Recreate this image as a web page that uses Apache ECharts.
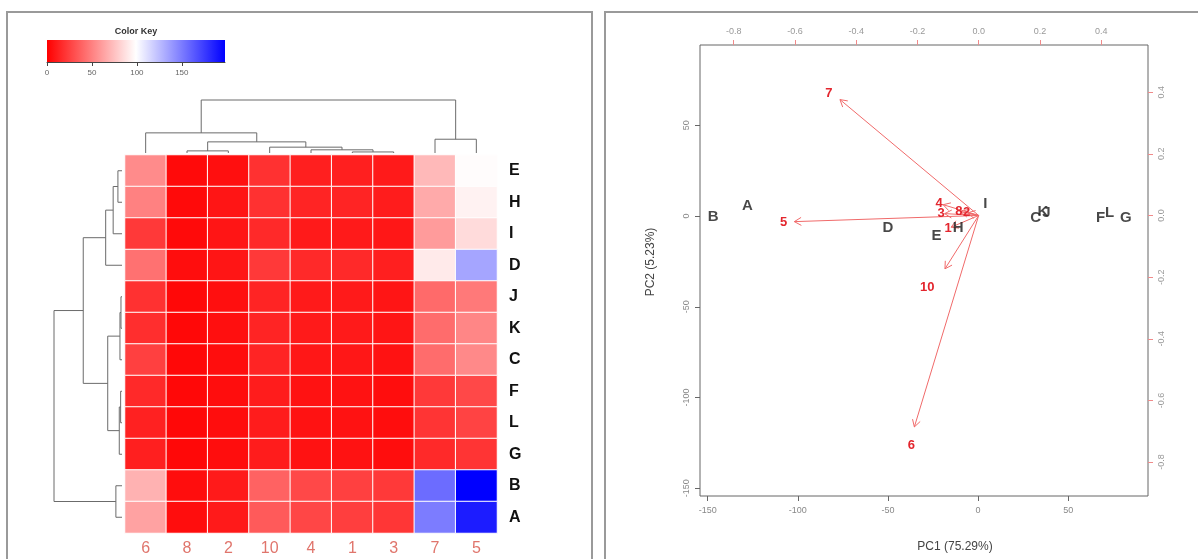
<!DOCTYPE html>
<html>
<head>
<meta charset="utf-8">
<script src="https://cdn.jsdelivr.net/npm/echarts@6/dist/echarts.min.js"></script>
<style>html,body{margin:0;padding:0;background:#fff}#main{width:1198px;height:559px}</style>
</head>
<body>
<div id="main"></div>
<script>
// ---- heatmap data (column order as drawn) ----
var colNames = ['6', '8', '2', '10', '4', '1', '3', '7', '5'];
var rowNames = ['E', 'H', 'I', 'D', 'J', 'K', 'C', 'F', 'L', 'G', 'B', 'A'];
var rowE = [54, 4, 6, 19, 12, 12, 10, 72, 98];
var rowH = [50, 4, 8, 19, 14, 14, 11, 66, 94];
var rowI = [22, 4, 8, 16, 10, 10, 9, 60, 85];
var rowD = [44, 5, 8, 22, 16, 16, 12, 91, 134];
var rowJ = [19, 3, 6, 14, 10, 10, 8, 41, 47];
var rowK = [18, 3, 6, 14, 10, 10, 8, 42, 52];
var rowC = [25, 3, 5, 14, 9, 9, 7, 42, 53];
var rowF = [16, 3, 5, 11, 7, 7, 5, 22, 28];
var rowL = [13, 3, 5, 11, 7, 7, 5, 20, 26];
var rowG = [12, 3, 5, 11, 7, 7, 5, 16, 20];
var rowB = [69, 5, 10, 38, 28, 25, 22, 156, 198];
var rowA = [63, 5, 10, 35, 27, 24, 21, 150, 187];
var heatRows = [rowE, rowH, rowI, rowD, rowJ, rowK, rowC, rowF, rowL, rowG, rowB, rowA];

// colour key
var keyMin = 0, keyMax = 198;
var keyTicks = [0, 50, 100, 150];

// dendrograms: [left, right, height]; strings are leaves, numbers refer to earlier merges
var rowMerges = [['E', 'H', 6], [0, 'I', 13], [1, 'D', 24], ['J', 'K', 1.5], [3, 'C', 3],
  ['F', 'L', 2], [5, 'G', 4], [4, 6, 21], [2, 7, 57], ['B', 'A', 9], [8, 9, 100]];
var colMerges = [['8', '2', 4], ['1', '3', 2], ['4', 1, 6], ['10', 2, 11], [0, 3, 21],
  ['6', 4, 38], ['7', '5', 26], [5, 6, 100]];

// ---- biplot data ----
var scoreNames = ['A', 'B', 'C', 'D', 'E', 'F', 'G', 'H', 'I', 'J', 'K', 'L'];
var scoreX = [-128, -147, 32, -50, -23, 68, 82, -11, 4, 38, 36, 73];
var scoreY = [5.5, -0.5, -1, -6.6, -11, -1, -1, -6.6, 6.6, 1.5, 2.5, 2];
var loadNames = ['7', '5', '6', '10', '4', '3', '8', '2', '1'];
var arrowX = [-0.453, -0.602, -0.210, -0.110, -0.116, -0.111, -0.058, -0.035, -0.090];
var arrowY = [0.376, -0.020, -0.686, -0.173, 0.035, 0.006, 0.012, 0.009, -0.038];
var labelX = [-0.489, -0.637, -0.220, -0.168, -0.129, -0.123, -0.065, -0.039, -0.100];
var labelY = [0.395, -0.022, -0.745, -0.235, 0.039, 0.007, 0.013, 0.010, -0.042];
var pcTicks = [-150, -100, -50, 0, 50];
var loadTicks = [-0.8, -0.6, -0.4, -0.2, 0, 0.2, 0.4];
var pcMin = -154.3, pcMax = 94.3;
var loadMin = -0.91, loadMax = 0.553;

var FONT = 'Liberation Sans, Arial, sans-serif';

var heatData = [];
heatRows.forEach(function (r, ri) {
  r.forEach(function (v, ci) { heatData.push([ci, ri, v]); });
});

function buildDendro(order, merges) {
  var pos = [], hts = [], out = [];
  merges.forEach(function (m) {
    var a = m[0], b = m[1];
    var pa = typeof a === 'string' ? order.indexOf(a) : pos[a];
    var pb = typeof b === 'string' ? order.indexOf(b) : pos[b];
    var ha = typeof a === 'string' ? 0 : hts[a];
    var hb = typeof b === 'string' ? 0 : hts[b];
    pos.push((pa + pb) / 2);
    hts.push(m[2]);
    out.push([pa, pb, m[2], ha, hb]);
  });
  return out;
}
var rowDendro = buildDendro(rowNames, rowMerges);
var colDendro = buildDendro(colNames, colMerges);

var scoreData = scoreNames.map(function (n, i) { return [scoreX[i], scoreY[i], n]; });
var loadData = loadNames.map(function (n, i) { return [arrowX[i], arrowY[i], labelX[i], labelY[i]]; });

var hidden = { show: false };
function hiddenAxis(extra) {
  return Object.assign({
    type: 'value', axisLine: hidden, axisTick: hidden, axisLabel: hidden, splitLine: hidden
  }, extra);
}

var dendroColor = '#6b6b6b';
var arrowColor = '#f06a6a';

var chart = echarts.init(document.getElementById('main'));
chart.setOption({
  animation: false,
  textStyle: { fontFamily: FONT },
  graphic: [
    { type: 'rect', shape: { x: 7, y: 12, width: 585, height: 560 }, style: { fill: null, stroke: '#9a9a9a', lineWidth: 2 } },
    { type: 'rect', shape: { x: 605, y: 12, width: 600, height: 560 }, style: { fill: null, stroke: '#9a9a9a', lineWidth: 2 } },
    { type: 'text', x: 136, y: 32, style: { text: 'Color Key', font: 'bold 9px ' + FONT, fill: '#333', align: 'center', verticalAlign: 'middle' } },
    { type: 'text', x: 955, y: 547, style: { text: 'PC1 (75.29%)', font: '12px ' + FONT, fill: '#444', align: 'center', verticalAlign: 'middle' } },
    { type: 'text', x: 651, y: 262, rotation: Math.PI / 2, style: { text: 'PC2 (5.23%)', font: '12px ' + FONT, fill: '#444', align: 'center', verticalAlign: 'middle' } }
  ],
  visualMap: {
    show: false, type: 'continuous', min: keyMin, max: keyMax, seriesIndex: 0, dimension: 2,
    inRange: { color: ['#ff0000', '#ffffff', '#0000ff'] }
  },
  grid: [
    { left: 125, top: 155, width: 372, height: 378 },
    { left: 125, top: 100, width: 372, height: 53 },
    { left: 54, top: 155, width: 68, height: 378 },
    { left: 47, top: 40, width: 178, height: 22 },
    { left: 700, top: 45, width: 448, height: 451, show: true, borderColor: '#666', borderWidth: 1, backgroundColor: 'transparent' }
  ],
  xAxis: [
    {
      type: 'category', gridIndex: 0, data: colNames, position: 'bottom',
      axisLine: hidden, axisTick: hidden, splitLine: hidden,
      axisLabel: { color: '#e0756c', fontSize: 16, margin: 8 }
    },
    hiddenAxis({ gridIndex: 1, min: -0.5, max: 8.5 }),
    hiddenAxis({ gridIndex: 2, min: 0, max: 100, inverse: true }),
    {
      type: 'value', gridIndex: 3, min: keyMin, max: keyMax, position: 'bottom',
      axisLine: { show: true, onZero: false, lineStyle: { color: '#444' } },
      axisTick: { show: true, customValues: keyTicks, length: 4, lineStyle: { color: '#444' } },
      axisLabel: { customValues: keyTicks, fontSize: 8, color: '#666', margin: 7 },
      splitLine: hidden
    },
    {
      type: 'value', gridIndex: 4, min: pcMin, max: pcMax, position: 'bottom',
      axisLine: { show: false, onZero: false },
      axisTick: { show: true, customValues: pcTicks, length: 5, lineStyle: { color: '#666' } },
      axisLabel: { customValues: pcTicks, fontSize: 9, color: '#888', margin: 10 },
      splitLine: hidden
    },
    {
      type: 'value', gridIndex: 4, min: loadMin, max: loadMax, position: 'top',
      axisLine: { show: false, onZero: false },
      axisTick: { show: true, customValues: loadTicks, length: 5, lineStyle: { color: '#f08a8a' } },
      axisLabel: { customValues: loadTicks, fontSize: 9, color: '#999', margin: 9,
        formatter: function (v) { return v.toFixed(1); } },
      splitLine: hidden
    }
  ],
  yAxis: [
    {
      type: 'category', gridIndex: 0, data: rowNames, position: 'right', inverse: true,
      axisLine: hidden, axisTick: hidden, splitLine: hidden,
      axisLabel: { color: '#111', fontSize: 16, fontWeight: 'bold', margin: 12 }
    },
    hiddenAxis({ gridIndex: 1, min: 0, max: 100 }),
    hiddenAxis({ gridIndex: 2, min: -0.5, max: 11.5, inverse: true }),
    hiddenAxis({ gridIndex: 3, min: 0, max: 1 }),
    {
      type: 'value', gridIndex: 4, min: pcMin, max: pcMax, position: 'left',
      axisLine: { show: false, onZero: false },
      axisTick: { show: true, customValues: pcTicks, length: 5, lineStyle: { color: '#666' } },
      axisLabel: { customValues: pcTicks, fontSize: 9, color: '#888', margin: 9, rotate: 90 },
      splitLine: hidden
    },
    {
      type: 'value', gridIndex: 4, min: loadMin, max: loadMax, position: 'right',
      axisLine: { show: false, onZero: false },
      axisTick: { show: true, customValues: loadTicks, length: 5, lineStyle: { color: '#f08a8a' } },
      axisLabel: { customValues: loadTicks, fontSize: 9, color: '#999', margin: 9, rotate: 90,
        formatter: function (v) { return v.toFixed(1); } },
      splitLine: hidden
    }
  ],
  series: [
    {
      type: 'heatmap', xAxisIndex: 0, yAxisIndex: 0, data: heatData,
      itemStyle: { borderColor: '#ffffff', borderWidth: 1 },
      emphasis: { disabled: true }
    },
    {
      type: 'custom', xAxisIndex: 1, yAxisIndex: 1, data: colDendro, silent: true,
      encode: { x: [0, 1], y: 2 },
      renderItem: function (params, api) {
        var pts = [
          api.coord([api.value(0), api.value(3)]),
          api.coord([api.value(0), api.value(2)]),
          api.coord([api.value(1), api.value(2)]),
          api.coord([api.value(1), api.value(4)])
        ];
        return { type: 'polyline', shape: { points: pts }, style: { stroke: dendroColor, fill: null, lineWidth: 1 } };
      }
    },
    {
      type: 'custom', xAxisIndex: 2, yAxisIndex: 2, data: rowDendro, silent: true,
      encode: { x: 2, y: [0, 1] },
      renderItem: function (params, api) {
        var pts = [
          api.coord([api.value(3), api.value(0)]),
          api.coord([api.value(2), api.value(0)]),
          api.coord([api.value(2), api.value(1)]),
          api.coord([api.value(4), api.value(1)])
        ];
        return { type: 'polyline', shape: { points: pts }, style: { stroke: dendroColor, fill: null, lineWidth: 1 } };
      }
    },
    {
      type: 'custom', xAxisIndex: 3, yAxisIndex: 3, data: [[keyMin, keyMax]], silent: true,
      renderItem: function (params, api) {
        var a = api.coord([api.value(0), 1]);
        var b = api.coord([api.value(1), 0]);
        return {
          type: 'rect', shape: { x: a[0], y: a[1], width: b[0] - a[0], height: b[1] - a[1] },
          style: {
            fill: new echarts.graphic.LinearGradient(0, 0, 1, 0, [
              { offset: 0, color: '#ff0000' }, { offset: 0.5, color: '#ffffff' }, { offset: 1, color: '#0000ff' }
            ])
          }
        };
      }
    },
    {
      type: 'custom', xAxisIndex: 5, yAxisIndex: 5, data: loadData, silent: true, clip: false,
      encode: { x: [0, 2], y: [1, 3] },
      renderItem: function (params, api) {
        var o = api.coord([0, 0]);
        var t = api.coord([api.value(0), api.value(1)]);
        var l = api.coord([api.value(2), api.value(3)]);
        var ang = Math.atan2(t[1] - o[1], t[0] - o[0]);
        var hl = 8, ha = Math.PI / 6;
        var p1 = [t[0] - hl * Math.cos(ang - ha), t[1] - hl * Math.sin(ang - ha)];
        var p2 = [t[0] - hl * Math.cos(ang + ha), t[1] - hl * Math.sin(ang + ha)];
        return {
          type: 'group', children: [
            { type: 'line', shape: { x1: o[0], y1: o[1], x2: t[0], y2: t[1] }, style: { stroke: arrowColor, lineWidth: 1 } },
            { type: 'polyline', shape: { points: [p1, t, p2] }, style: { stroke: arrowColor, fill: null, lineWidth: 1 } },
            { type: 'text', x: l[0], y: l[1], style: { text: loadNames[params.dataIndex], font: 'bold 13px ' + FONT, fill: '#e3262e', align: 'center', verticalAlign: 'middle' } }
          ]
        };
      }
    },
    {
      type: 'scatter', xAxisIndex: 4, yAxisIndex: 4, data: scoreData, symbolSize: 1,
      itemStyle: { color: 'transparent' }, silent: true,
      label: {
        show: true, position: 'inside', formatter: function (p) { return p.data[2]; },
        fontSize: 15, fontWeight: 'bold', color: '#1a1a1a'
      }
    }
  ]
});
</script>
</body>
</html>
